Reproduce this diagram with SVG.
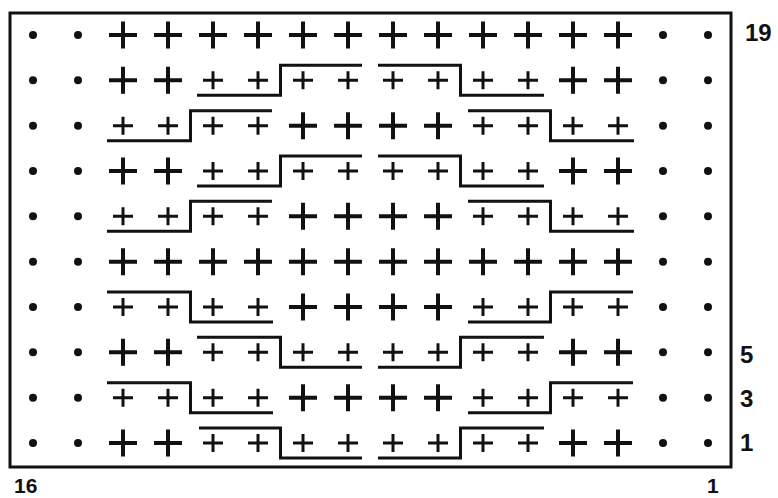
<svg xmlns="http://www.w3.org/2000/svg" xmlns:xlink="http://www.w3.org/1999/xlink" width="778" height="498" viewBox="0 0 778 498">
<style>
.big{stroke:#111;stroke-width:4;fill:none}
.sm{stroke:#111;stroke-width:3;fill:none}
.ln{stroke:#111;stroke-width:3;fill:none;stroke-linejoin:miter}
.frame{stroke:#111;stroke-width:3;fill:none}
.lbl{font-family:"Liberation Sans",Arial,sans-serif;font-weight:bold;font-size:24px;fill:#111}
.lblb{font-family:"Liberation Sans",Arial,sans-serif;font-weight:bold;font-size:21px;fill:#111}
</style>
<defs>
<path id="B" class="big" d="M-14 0H14M0-13.5V13.5"/>
<path id="S" class="sm" d="M-10 0H10M0-9V9"/>
<circle id="D" r="4" fill="#111"/>
</defs>
<rect width="778" height="498" fill="#fff"/>
<rect class="frame" x="10" y="13" width="721" height="454"/>

<g id="row19" transform="translate(0,35)">
<use href="#D" x="33"/><use href="#D" x="78"/>
<use href="#B" x="123"/><use href="#B" x="168"/><use href="#B" x="213"/><use href="#B" x="258"/><use href="#B" x="303"/><use href="#B" x="348"/><use href="#B" x="393"/><use href="#B" x="438"/><use href="#B" x="483"/><use href="#B" x="528"/><use href="#B" x="573"/><use href="#B" x="618"/>
<use href="#D" x="663"/><use href="#D" x="708"/>
</g>
<g id="row18" transform="translate(0,80.3)">
<use href="#D" x="33"/><use href="#D" x="78"/>
<use href="#B" x="123"/><use href="#B" x="168"/><use href="#S" x="213"/><use href="#S" x="258"/><use href="#S" x="303"/><use href="#S" x="348"/><use href="#S" x="393"/><use href="#S" x="438"/><use href="#S" x="483"/><use href="#S" x="528"/><use href="#B" x="573"/><use href="#B" x="618"/>
<use href="#D" x="663"/><use href="#D" x="708"/>
</g>
<g id="row17" transform="translate(0,125.7)">
<use href="#D" x="33"/><use href="#D" x="78"/>
<use href="#S" x="123"/><use href="#S" x="168"/><use href="#S" x="213"/><use href="#S" x="258"/><use href="#B" x="303"/><use href="#B" x="348"/><use href="#B" x="393"/><use href="#B" x="438"/><use href="#S" x="483"/><use href="#S" x="528"/><use href="#S" x="573"/><use href="#S" x="618"/>
<use href="#D" x="663"/><use href="#D" x="708"/>
</g>
<g id="row16" transform="translate(0,171)">
<use href="#D" x="33"/><use href="#D" x="78"/>
<use href="#B" x="123"/><use href="#B" x="168"/><use href="#S" x="213"/><use href="#S" x="258"/><use href="#S" x="303"/><use href="#S" x="348"/><use href="#S" x="393"/><use href="#S" x="438"/><use href="#S" x="483"/><use href="#S" x="528"/><use href="#B" x="573"/><use href="#B" x="618"/>
<use href="#D" x="663"/><use href="#D" x="708"/>
</g>
<g id="row15" transform="translate(0,216.3)">
<use href="#D" x="33"/><use href="#D" x="78"/>
<use href="#S" x="123"/><use href="#S" x="168"/><use href="#S" x="213"/><use href="#S" x="258"/><use href="#B" x="303"/><use href="#B" x="348"/><use href="#B" x="393"/><use href="#B" x="438"/><use href="#S" x="483"/><use href="#S" x="528"/><use href="#S" x="573"/><use href="#S" x="618"/>
<use href="#D" x="663"/><use href="#D" x="708"/>
</g>
<g id="row14" transform="translate(0,261.7)">
<use href="#D" x="33"/><use href="#D" x="78"/>
<use href="#B" x="123"/><use href="#B" x="168"/><use href="#B" x="213"/><use href="#B" x="258"/><use href="#B" x="303"/><use href="#B" x="348"/><use href="#B" x="393"/><use href="#B" x="438"/><use href="#B" x="483"/><use href="#B" x="528"/><use href="#B" x="573"/><use href="#B" x="618"/>
<use href="#D" x="663"/><use href="#D" x="708"/>
</g>
<g id="row13" transform="translate(0,307)">
<use href="#D" x="33"/><use href="#D" x="78"/>
<use href="#S" x="123"/><use href="#S" x="168"/><use href="#S" x="213"/><use href="#S" x="258"/><use href="#B" x="303"/><use href="#B" x="348"/><use href="#B" x="393"/><use href="#B" x="438"/><use href="#S" x="483"/><use href="#S" x="528"/><use href="#S" x="573"/><use href="#S" x="618"/>
<use href="#D" x="663"/><use href="#D" x="708"/>
</g>
<g id="row5" transform="translate(0,352.3)">
<use href="#D" x="33"/><use href="#D" x="78"/>
<use href="#B" x="123"/><use href="#B" x="168"/><use href="#S" x="213"/><use href="#S" x="258"/><use href="#S" x="303"/><use href="#S" x="348"/><use href="#S" x="393"/><use href="#S" x="438"/><use href="#S" x="483"/><use href="#S" x="528"/><use href="#B" x="573"/><use href="#B" x="618"/>
<use href="#D" x="663"/><use href="#D" x="708"/>
</g>
<g id="row3" transform="translate(0,397.7)">
<use href="#D" x="33"/><use href="#D" x="78"/>
<use href="#S" x="123"/><use href="#S" x="168"/><use href="#S" x="213"/><use href="#S" x="258"/><use href="#B" x="303"/><use href="#B" x="348"/><use href="#B" x="393"/><use href="#B" x="438"/><use href="#S" x="483"/><use href="#S" x="528"/><use href="#S" x="573"/><use href="#S" x="618"/>
<use href="#D" x="663"/><use href="#D" x="708"/>
</g>
<g id="row1" transform="translate(0,443)">
<use href="#D" x="33"/><use href="#D" x="78"/>
<use href="#B" x="123"/><use href="#B" x="168"/><use href="#S" x="213"/><use href="#S" x="258"/><use href="#S" x="303"/><use href="#S" x="348"/><use href="#S" x="393"/><use href="#S" x="438"/><use href="#S" x="483"/><use href="#S" x="528"/><use href="#B" x="573"/><use href="#B" x="618"/>
<use href="#D" x="663"/><use href="#D" x="708"/>
</g>

<g id="connectors">
<path class="ln" d="M197 95.3H280.5V65.3H362"/>
<path class="ln" d="M378 65.3H460.5V95.3H544"/>
<path class="ln" d="M107 140.7H190.5V110.7H272"/>
<path class="ln" d="M468 110.7H550.5V140.7H634"/>
<path class="ln" d="M197 186H280.5V156H362"/>
<path class="ln" d="M378 156H460.5V186H544"/>
<path class="ln" d="M107 231.3H190.5V201.3H272"/>
<path class="ln" d="M468 201.3H550.5V231.3H634"/>
<path class="ln" d="M107 292H190.5V322H273"/>
<path class="ln" d="M468 322H550.5V292H633"/>
<path class="ln" d="M197 337.3H280.5V367.3H362"/>
<path class="ln" d="M378 367.3H460.5V337.3H544"/>
<path class="ln" d="M107 382.7H190.5V412.7H273"/>
<path class="ln" d="M468 412.7H550.5V382.7H633"/>
<path class="ln" d="M199 428H280.5V458H362"/>
<path class="ln" d="M378 458H460.5V428H544"/>
</g>

<g id="labels">
<text class="lbl" x="745" y="41">19</text>
<text class="lbl" x="740" y="363">5</text>
<text class="lbl" x="740" y="407">3</text>
<text class="lbl" x="740" y="451">1</text>
<text class="lblb" x="14" y="493">16</text>
<text class="lblb" x="707" y="493">1</text>
</g>
</svg>
